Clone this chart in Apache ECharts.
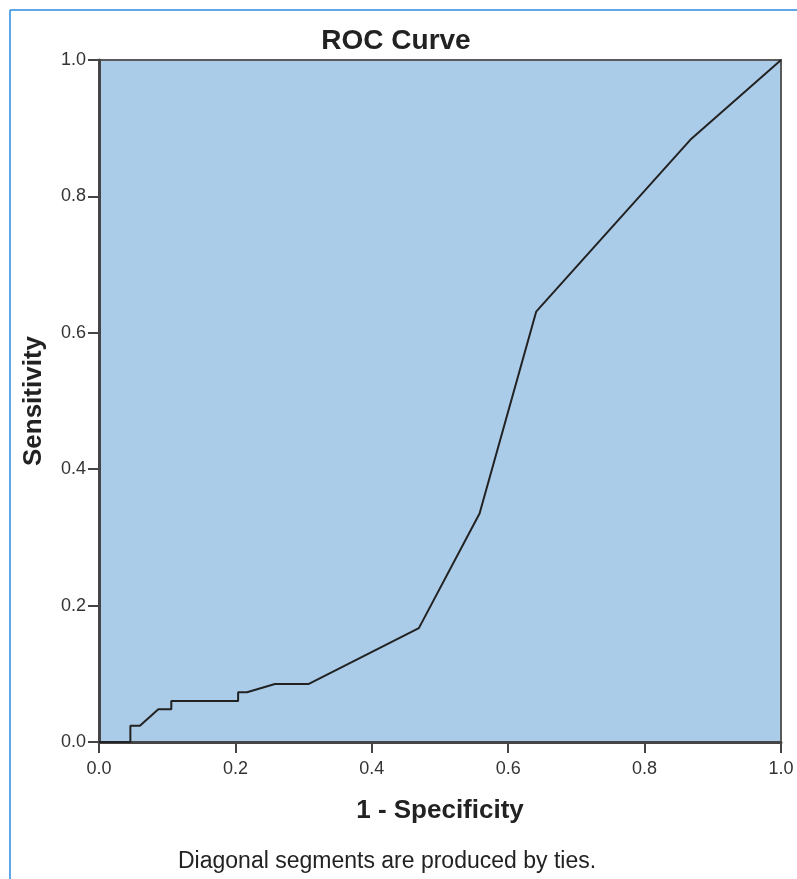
<!DOCTYPE html>
<html>
<head>
<meta charset="utf-8">
<script src="https://cdn.jsdelivr.net/npm/echarts@6/dist/echarts.min.js"></script>
<style>
  html, body { margin: 0; padding: 0; background: #fff; }
  #chart { width: 797px; height: 879px; }
</style>
</head>
<body>
<div id="chart"></div>
<script>
// ROC points
const fpr = [0, 0.046, 0.046, 0.060, 0.087, 0.106, 0.106, 0.204, 0.204, 0.217, 0.258, 0.307, 0.469, 0.558, 0.641, 0.867, 1.0]
const tpr = [0, 0, 0.024, 0.024, 0.048, 0.048, 0.060, 0.060, 0.073, 0.073, 0.085, 0.085, 0.167, 0.335, 0.631, 0.883, 1.0]
const axisTicks = [0, 0.2, 0.4, 0.6, 0.8, 1.0]

const chart = echarts.init(document.getElementById('chart'))
const font = '"Liberation Sans", Arial, sans-serif'

const axisCommon = {
  type: 'value',
  min: axisTicks[0],
  max: axisTicks[axisTicks.length - 1],
  interval: 0.2,
  nameLocation: 'middle',
  nameTextStyle: { fontFamily: font, fontSize: 26, fontWeight: 'bold', color: '#222' },
  axisLine: { show: true, lineStyle: { color: '#454545', width: 3 } },
  axisTick: { show: true, length: 11, lineStyle: { color: '#454545', width: 2 } },
  axisLabel: {
    fontFamily: font, fontSize: 18, color: '#333',
    formatter: v => v.toFixed(1)
  },
  splitLine: { show: false }
}

chart.setOption({
  animation: false,
  title: {
    text: 'ROC Curve',
    left: 391,
    top: 22,
    textAlign: 'center',
    textStyle: { fontFamily: font, fontSize: 28, fontWeight: 'bold', color: '#222' }
  },
  grid: {
    left: 99, right: 16, top: 60, bottom: 137,
    show: true,
    backgroundColor: '#abcce9',
    borderColor: '#5a5a5a',
    borderWidth: 2
  },
  xAxis: Object.assign({}, axisCommon, {
    name: '1 - Specificity',
    nameGap: 56,
    axisLabel: Object.assign({}, axisCommon.axisLabel, { margin: 18 })
  }),
  yAxis: Object.assign({}, axisCommon, {
    name: 'Sensitivity',
    nameGap: 52,
    axisLabel: Object.assign({}, axisCommon.axisLabel, { margin: 13 })
  }),
  series: [{
    type: 'line',
    data: fpr.map((x, i) => [x, tpr[i]]),
    showSymbol: false,
    symbol: 'none',
    lineStyle: { color: '#222', width: 2 },
    z: 3
  }],
  graphic: [
    { type: 'line', shape: { x1: 10, y1: 10, x2: 797, y2: 10 }, style: { stroke: '#2a8ae0', lineWidth: 1.5 } },
    { type: 'line', shape: { x1: 10, y1: 10, x2: 10, y2: 879 }, style: { stroke: '#2a8ae0', lineWidth: 1.5 } },
    {
      type: 'text', left: 178, top: 850,
      style: { text: 'Diagonal segments are produced by ties.', font: '23px ' + font, fill: '#222' }
    }
  ]
})
</script>
</body>
</html>
